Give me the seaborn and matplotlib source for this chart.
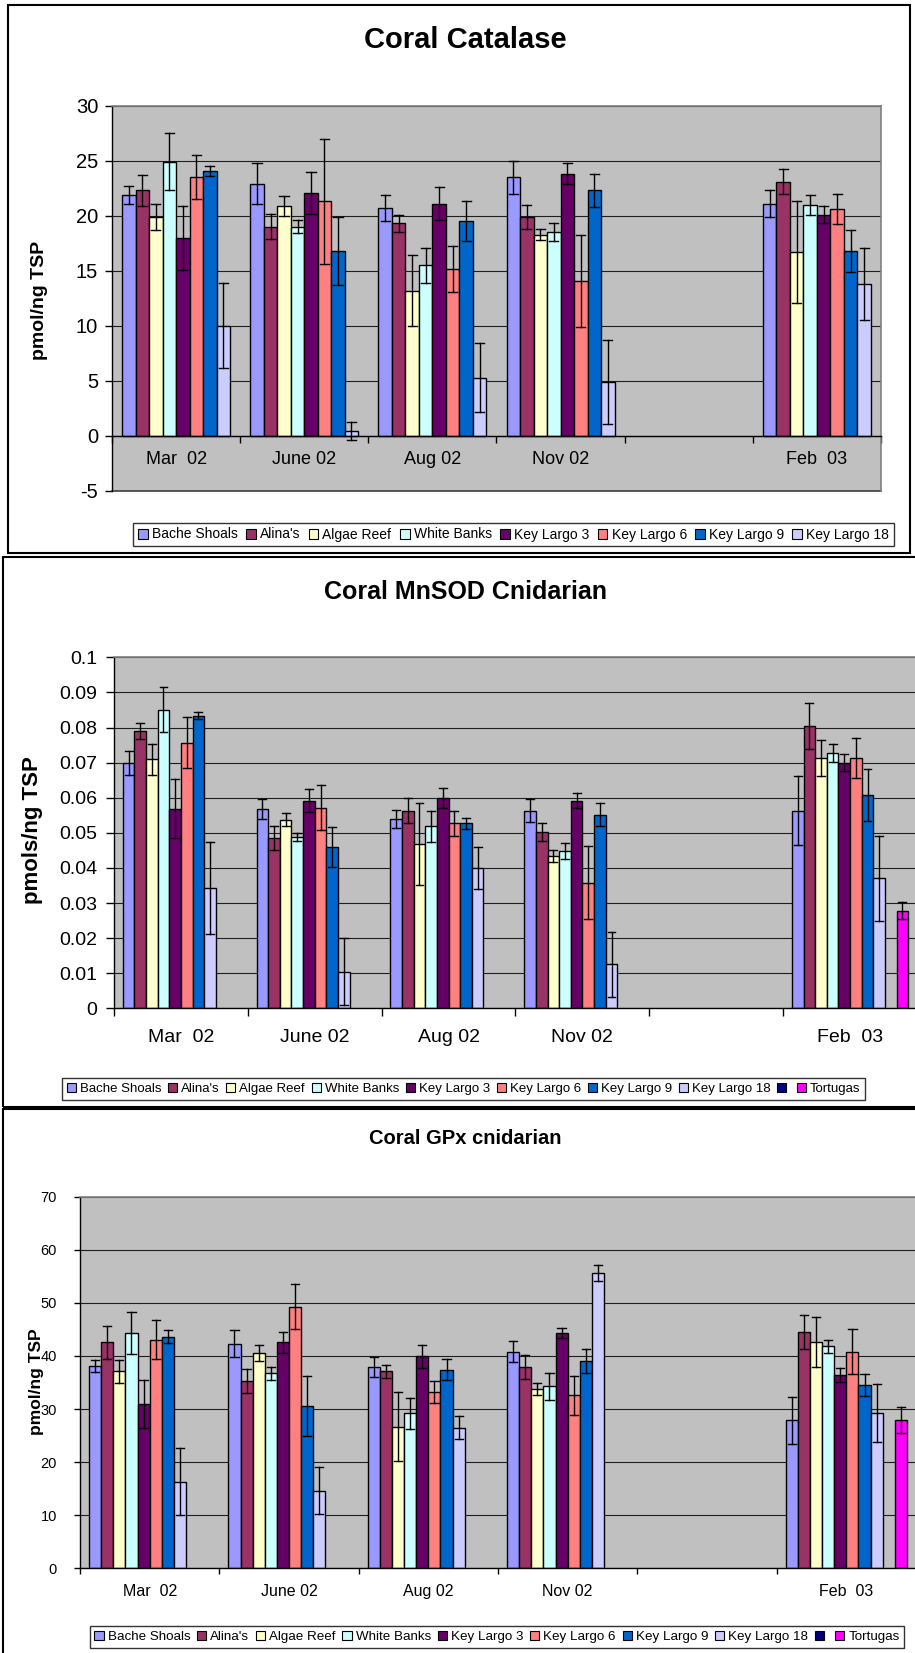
import numpy as np
import pandas as pd
import seaborn as sns
import matplotlib.pyplot as plt
from matplotlib.patches import Patch, Rectangle
from matplotlib.ticker import FuncFormatter

plt.rcParams['font.family'] = ['Liberation Sans', 'DejaVu Sans']
plt.rcParams['axes.unicode_minus'] = False

# ---- data ----
months = ["Mar  02", "June 02", "Aug 02", "Nov 02", " ", "Feb  03"]   # " " = empty slot
sampled = ["Mar  02", "June 02", "Aug 02", "Nov 02", "Feb  03"]
month_labels = ["Mar  02", "June 02", "Aug 02", "Nov 02", "", "Feb  03"]

sites = ["Bache Shoals", "Alina's", "Algae Reef", "White Banks",
         "Key Largo 3", "Key Largo 6", "Key Largo 9", "Key Largo 18"]
site_colors = ["#9999FF", "#993366", "#FFFFCC", "#CCFFFF",
               "#660066", "#FF8080", "#0066CC", "#CCCCFF"]
extra_sites = ["unnamed", "Tortugas"]          # first one has no label and no data
extra_colors = ["#000080", "#FF00FF"]
extra_labels = ["", "Tortugas"]

# rows = sites, columns = sampled months
catalase = [[21.9, 22.9, 20.7, 23.5, 21.1],
            [22.3, 19.0, 19.3, 19.9, 23.1],
            [19.9, 20.9, 13.2, 18.3, 16.7],
            [24.9, 19.0, 15.5, 18.5, 21.0],
            [18.0, 22.1, 21.1, 23.8, 20.1],
            [23.5, 21.3, 15.2, 14.1, 20.6],
            [24.1, 16.8, 19.5, 22.3, 16.8],
            [10.0, 0.45, 5.3, 4.9, 13.8]]
catalase_err = [[0.8, 1.85, 1.15, 1.5, 1.2],
                [1.4, 1.15, 0.8, 1.1, 1.15],
                [1.15, 0.9, 3.2, 0.5, 4.6],
                [2.6, 0.6, 1.6, 0.8, 0.9],
                [2.9, 1.9, 1.5, 0.95, 0.8],
                [2.0, 5.7, 2.1, 4.2, 1.35],
                [0.45, 3.05, 1.8, 1.5, 1.9],
                [3.85, 0.85, 3.15, 3.85, 3.3]]

mnsod = [[0.0700, 0.0568, 0.0539, 0.0563, 0.0563],
         [0.0790, 0.0486, 0.0563, 0.0503, 0.0805],
         [0.0709, 0.0537, 0.0467, 0.0434, 0.0712],
         [0.0850, 0.0489, 0.0519, 0.0449, 0.0728],
         [0.0568, 0.0592, 0.0600, 0.0592, 0.0700],
         [0.0757, 0.0572, 0.0527, 0.0358, 0.0712],
         [0.0834, 0.0459, 0.0527, 0.0552, 0.0608],
         [0.0343, 0.0104, 0.0399, 0.0125, 0.0370]]
mnsod_err = [[0.0034, 0.0028, 0.0025, 0.0033, 0.0099],
             [0.0024, 0.0034, 0.0036, 0.0025, 0.0066],
             [0.0044, 0.0019, 0.0117, 0.0017, 0.0051],
             [0.0064, 0.0011, 0.0044, 0.0023, 0.0025],
             [0.0084, 0.0032, 0.0029, 0.0021, 0.0025],
             [0.0073, 0.0064, 0.0036, 0.0104, 0.0057],
             [0.0011, 0.0057, 0.0016, 0.0032, 0.0073],
             [0.0132, 0.0095, 0.0060, 0.0092, 0.0122]]
mnsod_tortugas, mnsod_tortugas_err = 0.0278, 0.0024

gpx = [[38.1, 42.3, 37.9, 40.8, 27.9],
       [42.6, 35.2, 37.1, 37.9, 44.6],
       [37.1, 40.6, 26.7, 33.8, 42.6],
       [44.3, 36.7, 29.2, 34.3, 41.8],
       [30.9, 42.6, 39.9, 44.3, 36.4],
       [43.1, 49.3, 33.2, 32.6, 40.8],
       [43.6, 30.6, 37.4, 39.1, 34.6],
       [16.3, 14.6, 26.5, 55.7, 29.2]]
gpx_err = [[1.2, 2.5, 1.95, 2.0, 4.45],
           [3.1, 2.25, 1.25, 2.25, 3.2],
           [2.2, 1.5, 6.5, 1.2, 4.75],
           [4.0, 1.15, 2.95, 2.55, 1.2],
           [4.5, 2.0, 2.25, 1.0, 1.25],
           [3.75, 4.2, 2.15, 3.7, 4.25],
           [1.25, 5.7, 1.95, 2.25, 2.05],
           [6.3, 4.45, 2.2, 1.5, 5.45]]
gpx_tortugas, gpx_tortugas_err = 27.9, 2.5

W, H = 915, 1653


def long_table(names, means, errs, months_used):
    # each bar as two rows (mean - err, mean + err): mean -> bar, min/max -> error bar
    rows = []
    for name, m_row, e_row in zip(names, means, errs):
        for month, m, e in zip(months_used, m_row, e_row):
            rows.append((month, name, m - e))
            rows.append((month, name, m + e))
    return pd.DataFrame(rows, columns=["month", "site", "value"])


def draw_panel(ax, df, hue_order, palette, xpad, xsize, ysize, ypad, ticklen):
    n = len(hue_order)
    width = n / (n + 1.5)
    sns.barplot(data=df, x="month", y="value", hue="site", order=months,
                hue_order=hue_order, palette=palette, saturation=1, width=width,
                estimator="mean", errorbar=lambda v: (v.min(), v.max()),
                capsize=0.68 * width, err_kws={"color": "black", "linewidth": 1.0},
                edgecolor="black", linewidth=1.0, legend=False, ax=ax)
    ax.set_facecolor("#C0C0C0")
    ax.set_xlim(-0.5, 5.5)
    ax.set_xlabel("")
    ax.set_ylabel("")
    ax.yaxis.grid(True, color="#1e1e1e", linewidth=0.8)
    ax.xaxis.grid(False)
    ax.set_axisbelow(True)
    ax.set_xticks(range(len(months)))
    ax.set_xticklabels(month_labels)
    ax.set_xticks(np.arange(-0.5, len(months), 1), minor=True)
    ax.tick_params(axis="x", which="major", length=0, pad=xpad, labelsize=xsize)
    ax.tick_params(axis="x", which="minor", length=ticklen, width=1, color="black",
                   direction="out")
    ax.tick_params(axis="y", length=ticklen, width=1, direction="out", pad=ypad,
                   labelsize=ysize, color="black")
    for s in ("top", "right"):
        ax.spines[s].set_color("#808080")
        ax.spines[s].set_linewidth(1.2)
    for s in ("left", "bottom"):
        ax.spines[s].set_color("black")
        ax.spines[s].set_linewidth(1.0)


def add_legend(fig, names, colors, cx, cy, size=10, spacing=0.6):
    handles = [Patch(facecolor=c, edgecolor="black", linewidth=0.8) for c in colors]
    leg = fig.legend(handles, names, loc="center", bbox_to_anchor=(cx / W, 1 - cy / H),
                     ncol=len(names), frameon=True, fancybox=False, fontsize=size,
                     handlelength=0.7, handleheight=0.7, handletextpad=0.3,
                     columnspacing=spacing, borderpad=0.35)
    leg.get_frame().set_edgecolor("black")
    leg.get_frame().set_linewidth(1.0)


fig = plt.figure(figsize=(W / 100, H / 100), dpi=100)

# panel borders
fig.add_artist(Rectangle((8 / W, 1 - 553 / H), 902 / W, 548 / H, transform=fig.transFigure,
                         fill=False, edgecolor="black", linewidth=1.5))
fig.add_artist(Rectangle((3 / W, 1 - 1107 / H), 1.0, 550 / H, transform=fig.transFigure,
                         fill=False, edgecolor="black", linewidth=1.5))
fig.add_artist(Rectangle((3 / W, -0.01), 1.0, 1 - 1109 / H + 0.01, transform=fig.transFigure,
                         fill=False, edgecolor="black", linewidth=1.5))

# ---- Coral Catalase ----
ax1 = fig.add_axes([112 / W, 1 - 491 / H, 769 / W, 385.3 / H])
df1 = long_table(sites, catalase, catalase_err, sampled)
draw_panel(ax1, df1, sites, site_colors, xpad=11, xsize=13, ysize=14.5, ypad=5, ticklen=5)
ax1.set_ylim(-5, 30)
ax1.set_yticks(range(-5, 31, 5))
ax1.spines["bottom"].set_position(("data", 0))
ax1.plot([0, 1], [0, 0], transform=ax1.transAxes, color="#404040", linewidth=1.2,
         clip_on=False)
fig.text(465 / W, 1 - 40 / H, "Coral Catalase", ha="center", va="center",
         fontsize=21, fontweight="bold")
fig.text(40 / W, 1 - 300 / H, "pmol/ng TSP", rotation=90, ha="center", va="center",
         fontsize=14, fontweight="bold")
add_legend(fig, sites, site_colors, 513.5, 534.5)

# ---- Coral MnSOD Cnidarian ----
all_sites = sites + extra_sites
all_colors = site_colors + extra_colors
all_labels = sites + extra_labels

ax2 = fig.add_axes([114 / W, 1 - 1008.3 / H, 803 / W, 351 / H])
df2 = pd.concat([long_table(sites, mnsod, mnsod_err, sampled),
                 long_table(["Tortugas"], [[mnsod_tortugas]], [[mnsod_tortugas_err]],
                            ["Feb  03"])])
draw_panel(ax2, df2, all_sites, all_colors, xpad=15, xsize=14, ysize=14, ypad=6, ticklen=6)
ax2.set_ylim(0, 0.1)
ax2.set_yticks(np.linspace(0, 0.1, 11))
ax2.yaxis.set_major_formatter(FuncFormatter(lambda v, p: f"{v:.2f}".rstrip("0").rstrip(".")))
fig.text(465 / W, 1 - 592 / H, "Coral MnSOD Cnidarian", ha="center", va="center",
         fontsize=18, fontweight="bold")
fig.text(33 / W, 1 - 830 / H, "pmols/ng TSP", rotation=90, ha="center", va="center",
         fontsize=16, fontweight="bold")
add_legend(fig, all_labels, all_colors, 463.5, 1089, size=9.5, spacing=0.5)

# ---- Coral GPx cnidarian ----
ax3 = fig.add_axes([80 / W, 1 - 1568.3 / H, 836 / W, 371.6 / H])
df3 = pd.concat([long_table(sites, gpx, gpx_err, sampled),
                 long_table(["Tortugas"], [[gpx_tortugas]], [[gpx_tortugas_err]],
                            ["Feb  03"])])
draw_panel(ax3, df3, all_sites, all_colors, xpad=11, xsize=11.5, ysize=10.5, ypad=12,
           ticklen=4.5)
ax3.set_ylim(0, 70)
ax3.set_yticks(range(0, 71, 10))
fig.text(465 / W, 1 - 1139 / H, "Coral GPx cnidarian", ha="center", va="center",
         fontsize=14.5, fontweight="bold")
fig.text(36 / W, 1 - 1382 / H, "pmol/ng TSP", rotation=90, ha="center", va="center",
         fontsize=12.5, fontweight="bold")
add_legend(fig, all_labels, all_colors, 497, 1637, size=9.6, spacing=0.5)

fig.savefig("out.png", dpi=100)
